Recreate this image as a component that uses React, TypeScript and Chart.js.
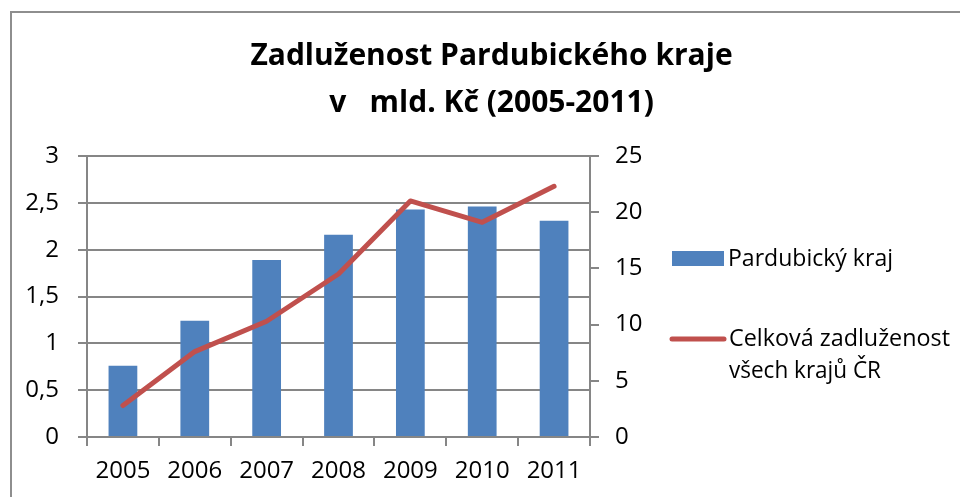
import React, { useEffect, useRef } from "react";
import { Chart, registerables } from "chart.js";

Chart.register(...registerables);

const categories = ["2005", "2006", "2007", "2008", "2009", "2010", "2011"];
const pardubickyKraj = [0.76, 1.24, 1.89, 2.16, 2.43, 2.46, 2.31];
const celkovaZadluzenost = [2.8, 7.6, 10.3, 14.5, 21.0, 19.1, 22.3];
const titleLines = ["Zadluženost Pardubického kraje", "v   mld. Kč (2005-2011)"];
const seriesNames = ["Pardubický kraj", "Celková zadluženost", "všech krajů ČR"];
const leftTicks = [0, 0.5, 1, 1.5, 2, 2.5, 3];
const rightTicks = [0, 5, 10, 15, 20, 25];

const BLUE = "#4F81BD";
const RED = "#C0504D";
const GRID = "#868686";
const FONT = "'Open Sans', 'DejaVu Sans', sans-serif";

const overlayPlugin = {
  id: "overlay",
  afterDraw(chart: any) {
    const ctx = chart.ctx as CanvasRenderingContext2D;
    ctx.save();
    // title
    ctx.fillStyle = "#000";
    ctx.font = `bold 30px ${FONT}`;
    ctx.textAlign = "center";
    ctx.textBaseline = "alphabetic";
    const w1 = ctx.measureText(titleLines[0]).width;
    const ratio = 487 / w1;
    const w2 = ctx.measureText(titleLines[1]).width;
    ctx.fillText(titleLines[0], 491.5, 65, 487);
    ctx.fillText(titleLines[1], 491.5, 111.5, w2 * ratio);

    // legend
    const ds = chart.data.datasets;
    ctx.fillStyle = ds[0].backgroundColor;
    ctx.fillRect(672, 251, 52, 15);
    ctx.strokeStyle = ds[1].borderColor;
    ctx.lineWidth = 5;
    ctx.lineCap = "round";
    ctx.beginPath();
    ctx.moveTo(672, 339);
    ctx.lineTo(724, 339);
    ctx.stroke();

    ctx.fillStyle = "#000";
    ctx.font = `24px ${FONT}`;
    ctx.textAlign = "left";
    ctx.textBaseline = "middle";
    const fit = (t: string, x: number, y: number, w: number) => {
      const mw = ctx.measureText(t).width;
      ctx.fillText(t, x, y, Math.min(mw, w));
    };
    fit(ds[0].label, 728, 259, 165);
    fit(seriesNames[1], 729, 339, 221);
    fit(seriesNames[2], 729, 371, 152);
    ctx.restore();
  },
};

export default function App() {
  const ref = useRef<HTMLCanvasElement>(null);
  useEffect(() => {
    document.body.style.margin = "0";
    const chart = new Chart(ref.current!, {
      type: "bar",
      data: {
        labels: categories,
        datasets: [
          {
            type: "bar",
            label: seriesNames[0],
            data: pardubickyKraj,
            backgroundColor: BLUE,
            borderWidth: 0,
            barPercentage: 0.4,
            categoryPercentage: 1,
            yAxisID: "y",
            order: 2,
          },
          {
            type: "line",
            label: seriesNames[1] + " " + seriesNames[2],
            data: celkovaZadluzenost,
            borderColor: RED,
            backgroundColor: RED,
            borderWidth: 5,
            pointRadius: 0,
            tension: 0,
            borderCapStyle: "round",
            borderJoinStyle: "round",
            yAxisID: "y1",
            order: 1,
          } as any,
        ],
      },
      options: {
        animation: false,
        responsive: false,
        maintainAspectRatio: false,
        layout: { padding: { top: 156, left: 0, right: 0, bottom: 0 } },
        plugins: {
          legend: { display: false },
          title: { display: false },
          tooltip: { enabled: false },
        },
        scales: {
          x: {
            type: "category",
            offset: true,
            grid: {
              display: true,
              offset: true,
              drawOnChartArea: false,
              drawTicks: true,
              tickLength: 9,
              color: GRID,
              lineWidth: 2,
            },
            border: { display: true, color: GRID, width: 2 },
            ticks: { color: "#000", font: { family: FONT, size: 24 }, padding: 11, maxRotation: 0 },
            afterFit: (s: any) => {
              s.height = 60;
            },
          },
          y: {
            type: "linear",
            position: "left",
            min: 0,
            max: 3,
            afterBuildTicks: (s: any) => {
              s.ticks = leftTicks.map((v) => ({ value: v }));
            },
            grid: { color: GRID, tickLength: 9, lineWidth: 2 },
            border: { display: true, color: GRID, width: 2 },
            ticks: {
              color: "#000",
              font: { family: FONT, size: 24 },
              padding: 19,
              callback: (v: any) => String(v).replace(".", ","),
            },
            afterFit: (s: any) => {
              s.width = 87;
            },
          },
          y1: {
            type: "linear",
            position: "right",
            min: 0,
            max: 25,
            afterBuildTicks: (s: any) => {
              s.ticks = rightTicks.map((v) => ({ value: v }));
            },
            grid: { drawOnChartArea: false, color: GRID, tickLength: 9, lineWidth: 2 },
            border: { display: true, color: GRID, width: 2 },
            ticks: { color: "#000", font: { family: FONT, size: 24 }, padding: 16 },
            afterFit: (s: any) => {
              s.width = 370;
            },
          },
        },
      },
      plugins: [overlayPlugin],
    });
    return () => chart.destroy();
  }, []);

  return (
    <div style={{ position: "absolute", left: 0, top: 0, width: 960, height: 497, overflow: "hidden", background: "#fff" }}>
      <div
        style={{
          position: "absolute",
          left: 10,
          top: 11,
          width: 1100,
          height: 1100,
          border: "2px solid #8e8e8e",
          boxSizing: "border-box",
        }}
      />
      <canvas ref={ref} width={960} height={497} style={{ position: "absolute", left: 0, top: 0, width: 960, height: 497 }} />
    </div>
  );
}
